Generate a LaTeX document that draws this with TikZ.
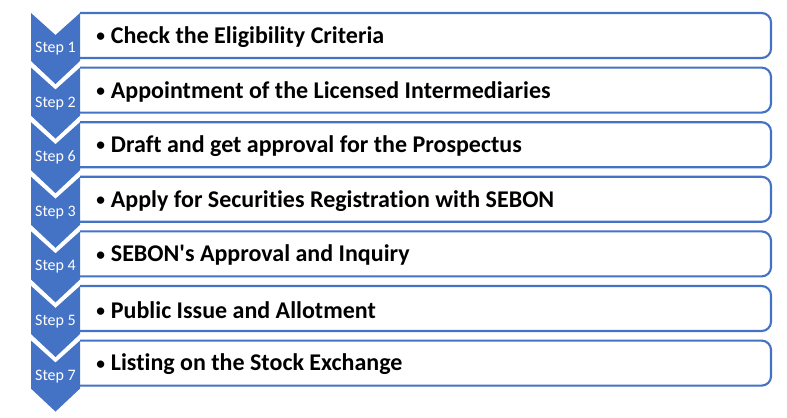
\documentclass[tikz,border=0pt]{standalone}
\usepackage{fontspec}
\setmainfont{Carlito}[Ligatures=NoCommon]
\usepackage{xcolor}
\usepackage{tikz}
\usetikzlibrary{arrows.meta}

\definecolor{stepblue}{RGB}{68,114,196}
\newcommand{\itembullet}{\raisebox{1.4pt}{\fontsize{13}{13}\selectfont•}\hspace{4.5pt}}

\begin{document}
\begin{tikzpicture}[x=0.75pt,y=0.75pt,yscale=-1,xscale=1,
	itembox/.style={draw=stepblue, line width=1.6pt, rounded corners=7},
	chevron/.style={fill=stepblue, draw=none},
	steplabel/.style={anchor=center, inner sep=0.75pt, text=white, font=\fontsize{12}{14}\selectfont},
	itemlabel/.style={anchor=west, inner sep=0.75pt, font=\fontsize{18}{21}\selectfont\bfseries}]
		\useasboundingbox (0,0) rectangle (787,417);
		
		%Shape: Rounded Rectangle [id:box1] 
		\draw [itembox] (80,13) -- (771,13) -- (771,58) -- (80,58) ;
		%Shape: Rounded Rectangle [id:box2] 
		\draw [itembox] (80,67.6) -- (771,67.6) -- (771,112.6) -- (80,112.6) ;
		%Shape: Rounded Rectangle [id:box3] 
		\draw [itembox] (80,122.2) -- (771,122.2) -- (771,167.2) -- (80,167.2) ;
		%Shape: Rounded Rectangle [id:box4] 
		\draw [itembox] (80,176.8) -- (771,176.8) -- (771,221.8) -- (80,221.8) ;
		%Shape: Rounded Rectangle [id:box5] 
		\draw [itembox] (80,231.4) -- (771,231.4) -- (771,276.4) -- (80,276.4) ;
		%Shape: Rounded Rectangle [id:box6] 
		\draw [itembox] (80,286) -- (771,286) -- (771,331) -- (80,331) ;
		%Shape: Rounded Rectangle [id:box7] 
		\draw [itembox] (80,340.6) -- (771,340.6) -- (771,385.6) -- (80,385.6) ;
		
		%Shape: Chevron [id:chev1] 
		\fill [chevron] (31,13) -- (55.5,35) -- (80,13) -- (80,61) -- (55.5,84) -- (31,61) -- cycle ;
		%Shape: Chevron [id:chev2] 
		\fill [chevron] (31,67.6) -- (55.5,89.6) -- (80,67.6) -- (80,115.6) -- (55.5,138.6) -- (31,115.6) -- cycle ;
		%Shape: Chevron [id:chev3] 
		\fill [chevron] (31,122.2) -- (55.5,144.2) -- (80,122.2) -- (80,170.2) -- (55.5,193.2) -- (31,170.2) -- cycle ;
		%Shape: Chevron [id:chev4] 
		\fill [chevron] (31,176.8) -- (55.5,198.8) -- (80,176.8) -- (80,224.8) -- (55.5,247.8) -- (31,224.8) -- cycle ;
		%Shape: Chevron [id:chev5] 
		\fill [chevron] (31,231.4) -- (55.5,253.4) -- (80,231.4) -- (80,279.4) -- (55.5,302.4) -- (31,279.4) -- cycle ;
		%Shape: Chevron [id:chev6] 
		\fill [chevron] (31,286) -- (55.5,308) -- (80,286) -- (80,334) -- (55.5,357) -- (31,334) -- cycle ;
		%Shape: Chevron [id:chev7] 
		\fill [chevron] (31,340.6) -- (55.5,362.6) -- (80,340.6) -- (80,388.6) -- (55.5,411.6) -- (31,388.6) -- cycle ;
		
		% Text Node
		\node [steplabel] (step1) at (55.5,48.5) {Step 1};
		% Text Node
		\node [steplabel] (step2) at (55.5,103.1) {Step 2};
		% Text Node
		\node [steplabel] (step6) at (55.5,157.7) {Step 6};
		% Text Node
		\node [steplabel] (step3) at (55.5,212.3) {Step 3};
		% Text Node
		\node [steplabel] (step4) at (55.5,266.9) {Step 4};
		% Text Node
		\node [steplabel] (step5) at (55.5,321.5) {Step 5};
		% Text Node
		\node [steplabel] (step7) at (55.5,376.1) {Step 7};
		
		% Text Node
		\node [itemlabel] (eligibility) at (95,37) {\itembullet Check the Eligibility Criteria};
		% Text Node
		\node [itemlabel] (intermediaries) at (95,91.6) {\itembullet Appointment of the Licensed Intermediaries};
		% Text Node
		\node [itemlabel] (prospectus) at (95,146.2) {\itembullet Draft and get approval for the Prospectus};
		% Text Node
		\node [itemlabel] (registration) at (95,200.8) {\itembullet Apply for Securities Registration with SEBON};
		% Text Node
		\node [itemlabel] (approval) at (95,255.4) {\itembullet SEBON\textquotesingle s Approval and Inquiry};
		% Text Node
		\node [itemlabel] (issue) at (95,310) {\itembullet Public Issue and Allotment};
		% Text Node
		\node [itemlabel] (listing) at (95,364.6) {\itembullet Listing on the Stock Exchange};
		
\end{tikzpicture}
\end{document}
